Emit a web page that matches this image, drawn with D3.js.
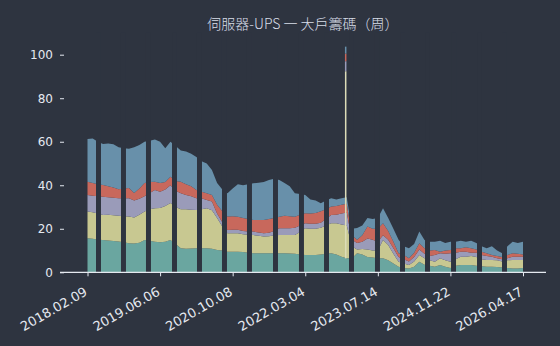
<!DOCTYPE html>
<html><head><meta charset="utf-8">
<script src="https://cdn.jsdelivr.net/npm/d3@7"></script>
<style>html,body{margin:0;padding:0;background:#2e3440;}svg{display:block}</style>
</head><body><svg id="c" width="560" height="346"></svg>
<script>
const tickLabels = ["2018.02.09","2019.06.06","2020.10.08","2022.03.04","2023.07.14","2024.11.22","2026.04.17"];
const seriesNames = ["s1","s2","s3","s4","s5"];
const teal = [15.6,15.4,15.0,14.8,14.6,14.4,14.2,13.8,13.4,13.2,
13.6,14.8,14.5,14.0,13.8,14.0,14.8,13.0,11.0,10.8,
10.9,11.0,11.0,11.0,10.8,10.3,10.0,9.5,9.5,9.5,
9.3,9.0,8.7,8.7,8.7,8.7,8.7,8.7,8.7,8.6,
8.5,8.2,8.0,8.0,8.0,8.2,8.5,8.7,8.2,7.2,
6.4,6.5,8.7,8.2,7.0,6.8,6.5,6.4,5.5,4.0,
2.6,2.0,1.8,2.5,4.9,3.5,3.0,2.5,3.4,2.5,
2.0,3.0,3.4,3.4,3.4,3.0,2.8,2.6,2.6,2.4,
2.2,2.0,1.8,1.8,2.0];
const yellow = [12.3,12.2,12.0,11.5,11.9,11.8,11.8,12.0,12.2,12.0,
12.9,13.1,14.5,15.4,15.7,16.5,17.0,17.0,18.0,18.2,
17.9,17.6,18.0,18.4,17.7,14.7,11.0,8.4,8.5,8.5,
8.2,8.3,8.4,8.1,7.7,7.9,8.3,8.4,8.4,8.5,
8.6,10.3,12.2,12.0,12.0,12.3,13.0,13.8,14.3,14.8,
15.1,5.5,1.8,2.5,3.5,3.2,3.5,8.4,7.0,4.5,
2.3,2.0,1.6,2.5,3.1,3.0,2.5,2.4,3.0,3.0,
2.9,3.0,3.8,3.8,4.1,4.0,3.2,3.1,3.1,3.1,
2.8,3.5,3.9,3.9,3.7];
const lavender = [7.6,7.6,8.0,8.4,8.0,8.1,8.0,8.2,8.4,7.8,
7.3,7.1,7.5,8.4,7.5,7.5,8.2,7.5,7.3,6.5,
6.2,5.4,5.0,3.8,4.0,2.0,2.0,1.5,1.5,1.5,
1.5,1.5,1.6,1.5,1.5,1.6,2.0,3.1,3.1,3.2,
3.4,3.0,2.3,2.3,2.3,2.3,3.0,3.8,4.0,5.0,
6.0,3.0,3.0,3.3,5.0,5.0,4.0,2.2,2.5,2.5,
2.1,2.0,1.6,2.0,2.5,2.0,2.0,3.1,2.3,3.0,
3.8,3.0,2.3,2.3,1.5,2.0,2.0,1.8,1.5,1.0,
1.0,1.0,1.5,1.5,1.5];
const red = [6.1,5.8,5.5,5.4,5.0,4.7,4.2,4.5,4.7,3.4,
4.7,6.0,5.0,3.8,4.0,3.5,3.9,4.5,5.3,5.0,
4.5,3.8,3.0,3.1,3.0,4.0,5.0,6.2,6.3,6.0,
6.0,5.7,5.3,5.7,6.1,6.3,6.0,5.3,5.8,5.5,
5.0,5.0,4.6,4.7,5.0,5.2,4.5,3.9,4.0,4.0,
4.0,2.0,1.5,3.0,5.5,5.0,6.0,5.5,4.0,3.0,
1.7,2.0,1.4,2.0,2.8,2.5,2.5,2.2,0.8,1.5,
1.5,2.0,1.5,2.0,2.0,1.5,1.5,1.2,0.8,1.0,
1.0,1.5,1.5,1.3,1.0];
const blue = [19.7,20.5,19.5,18.9,19.7,19.8,19.3,18.5,18.1,21.1,
20.0,19.0,19.0,19.4,19.0,15.5,16.1,16.0,14.4,15.0,
15.0,15.2,14.0,13.7,11.5,10.0,10.0,10.7,12.7,15.0,
15.0,16.0,16.9,17.2,17.5,17.9,18.0,16.9,15.0,13.7,
10.8,9.5,8.4,6.5,5.7,3.7,4.0,3.8,3.0,3.0,
3.0,3.0,5.4,4.5,4.0,4.5,5.0,6.9,6.0,6.0,
6.3,4.0,4.6,4.0,5.4,3.8,4.0,3.8,5.0,3.5,
3.8,3.0,3.5,2.5,3.5,3.0,2.5,2.3,4.0,2.5,
1.7,4.0,5.3,5.0,5.8];
const gapStarts = [1.64,6.46,11.28,16.30,21.12,25.94,30.76,35.78,40.79,45.62,50.44,55.45,60.28,65.10,70.12,75.13,79.95];
const gapWidth = 0.96;
const spikeAt = 49.8;
const spikeValues = [6.4,86.0,4.6,3.5,3.2];
const yTicks = [0,20,40,60,80,100];
const colors = ["#6aa6a0","#c8c891","#9a9bb9","#c8685c","#6890aa"];
const title = "伺服器-UPS 一 大戶籌碼（周）";

const bg = "#2e3440";
const svg = d3.select("#c");
const N = teal.length;
const x = d3.scaleLinear().domain([0, N-1]).range([87.5, 523]);
const y = d3.scaleLinear().domain([0, 100]).range([272.3, 54.7]);

const rows = d3.range(N).map(i => ({i, s1: teal[i], s2: yellow[i], s3: lavender[i], s4: red[i], s5: blue[i]}));
const stack = d3.stack().keys(seriesNames)(rows);
const area = d3.area().x(d => x(d.data.i)).y0(d => y(d[0])).y1(d => y(d[1]));

svg.append("g").selectAll("path").data(stack).join("path")
  .attr("d", area).attr("fill", (d,k) => colors[k]);

const spikeStack = d3.cumsum(spikeValues);
svg.append("g").selectAll("rect").data(spikeValues).join("rect")
  .attr("x", x(spikeAt) - 0.75).attr("width", 1.5)
  .attr("y", (d,k) => y(spikeStack[k]))
  .attr("height", (d,k) => y(spikeStack[k]-d) - y(spikeStack[k]))
  .attr("fill", (d,k) => k === 1 ? "#dcdcb8" : colors[k]);

svg.append("g").selectAll("rect").data(gapStarts).join("rect")
  .attr("x", d => x(d)).attr("width", d => x(d + gapWidth) - x(d))
  .attr("y", y(110)).attr("height", y(0) - y(110))
  .attr("fill", bg);

const yAxis = svg.append("g").attr("transform", "translate(64,0)")
  .call(d3.axisLeft(y).tickValues(yTicks).tickSize(4).tickPadding(7));
yAxis.select(".domain").remove();
yAxis.selectAll("line").attr("stroke", "#e5e9f0");
yAxis.selectAll("text").attr("fill", "#e5e9f0").style("font", "12px 'DejaVu Sans'");

const tickIdx = tickLabels.map((t,k) => k * (N-1) / (tickLabels.length-1));
const xAxis = svg.append("g").attr("transform", `translate(0,${y(0)})`)
  .call(d3.axisBottom(x).tickValues(tickIdx).tickFormat((d,k) => tickLabels[k]).tickSize(4));
xAxis.select(".domain").remove();
xAxis.append("line").attr("x1", 60).attr("x2", 546).attr("stroke", "#e5e9f0").attr("stroke-width", 1.2);
xAxis.selectAll(".tick line").attr("stroke", "#e5e9f0");
xAxis.selectAll(".tick text").attr("fill", "#e5e9f0").style("font", "13px 'DejaVu Sans'")
  .attr("text-anchor", "end").attr("x", 0).attr("y", 0).attr("dy", "0.35em")
  .attr("transform", "translate(-2,18) rotate(-30)");

svg.append("text").attr("x", 303).attr("y", 29).attr("text-anchor", "middle")
  .attr("fill", "#d8dee9").style("font", "300 14px 'Noto Sans CJK TC'").text(title);
</script></body></html>
